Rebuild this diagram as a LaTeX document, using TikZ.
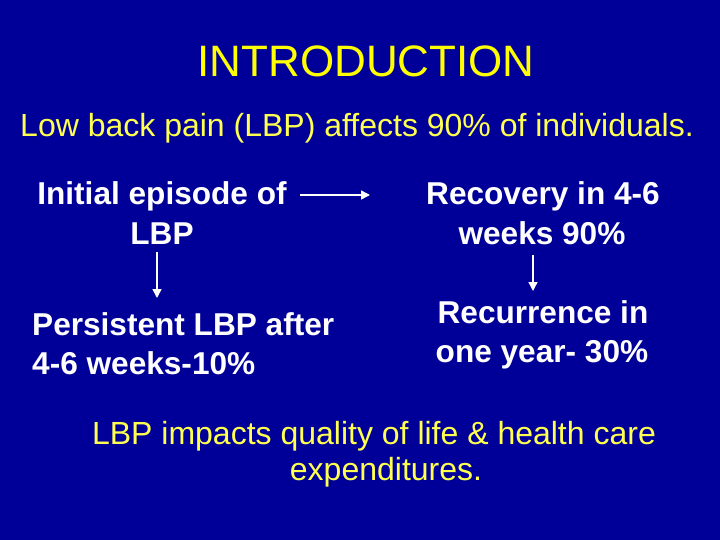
\documentclass[tikz,border=0pt]{standalone}
\usepackage{fontspec}
\setmainfont{Liberation Sans}
\usetikzlibrary{arrows.meta}
\definecolor{bgblue}{RGB}{0,0,153}
\definecolor{ttlyellow}{RGB}{255,255,0}
\definecolor{txtyellow}{RGB}{255,255,80}
\tikzset{
  txt/.style={inner sep=0pt, anchor=base},
  ttl/.style={txt, text=ttlyellow, font=\fontsize{44}{53}\selectfont},
  yel/.style={txt, text=txtyellow, font=\fontsize{32}{38}\selectfont},
  wht/.style={txt, text=white, font=\fontsize{31.6}{38}\selectfont\bfseries},
  arr/.style={white, line width=1.4pt, -{Triangle[length=9pt,width=9pt]}}
}
\begin{document}
\begin{tikzpicture}[x=1pt,y=-1pt]
\fill[bgblue] (0,0) rectangle (720,540);
\useasboundingbox (0,0) rectangle (720,540);
\node[ttl] (title) at (366,77) {INTRODUCTION};
\node[yel] (intro) at (357,137) {Low back pain (LBP) affects 90\% of individuals.};
\node[wht] (init1) at (162,205) {Initial episode of};
\node[wht] (init2) at (162,244) {LBP};
\node[wht] (rec1) at (543,205) {Recovery in 4-6};
\node[wht] (rec2) at (542,244) {weeks 90\%};
\node[wht, anchor=base west] (pers1) at (32,335) {Persistent LBP after};
\node[wht, anchor=base west] (pers2) at (32,374) {4-6 weeks-10\%};
\node[wht] (recur1) at (543,323) {Recurrence in};
\node[wht] (recur2) at (542,362) {one year- 30\%};
\node[yel] (bot1) at (374,444) {LBP impacts quality of life \& health care};
\node[yel] (bot2) at (386,480) {expenditures.};
\coordinate (h1) at (300,195);
\coordinate (h2) at (370,195);
\coordinate (l1) at (157,252);
\coordinate (l2) at (157,298);
\coordinate (r1) at (533,255);
\coordinate (r2) at (533,291);
\draw[arr] (h1) -- (h2);
\draw[arr] (l1) -- (l2);
\draw[arr] (r1) -- (r2);
\end{tikzpicture}
\end{document}
